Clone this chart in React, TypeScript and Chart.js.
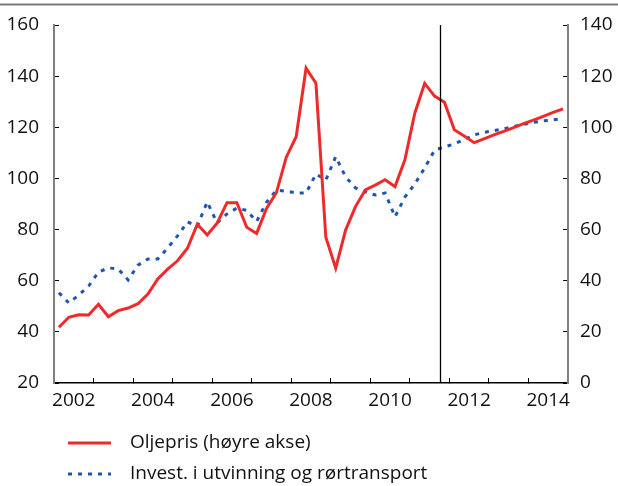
import { useEffect, useRef } from "react";
import { Chart, registerables } from "chart.js";

Chart.register(...registerables);

// Quarters 2002K1 .. 2014K4
const quarters: string[] = [
  "2002K1", "2002K2", "2002K3", "2002K4",
  "2003K1", "2003K2", "2003K3", "2003K4",
  "2004K1", "2004K2", "2004K3", "2004K4",
  "2005K1", "2005K2", "2005K3", "2005K4",
  "2006K1", "2006K2", "2006K3", "2006K4",
  "2007K1", "2007K2", "2007K3", "2007K4",
  "2008K1", "2008K2", "2008K3", "2008K4",
  "2009K1", "2009K2", "2009K3", "2009K4",
  "2010K1", "2010K2", "2010K3", "2010K4",
  "2011K1", "2011K2", "2011K3", "2011K4",
  "2012K1", "2012K2", "2012K3", "2012K4",
  "2013K1", "2013K2", "2013K3", "2013K4",
  "2014K1", "2014K2", "2014K3", "2014K4",
];

// Oil price (right axis)
const oljepris: number[] = [
  21.8, 25.7, 26.7, 26.6, 30.8, 25.9, 28.3, 29.3,
  31.0, 34.8, 40.7, 44.5, 47.8, 52.7, 62.1, 57.9,
  62.5, 70.5, 70.5, 60.9, 58.5, 68.3, 74.4, 88.3,
  96.3, 123.1, 117.2, 57.0, 44.9, 59.8, 69.0, 75.5,
  77.4, 79.5, 76.8, 87.3, 105.5, 117.2, 112.2, 109.8,
  99.0, 96.6, 94.0, 95.5, 97.0, 98.4, 99.9, 101.4,
  102.8, 104.3, 105.8, 107.2,
];

// Investment in extraction and pipeline transport (left axis)
const invest: number[] = [
  55.3, 51.3, 54.4, 57.9, 63.4, 65.0, 64.6, 60.3,
  66.1, 68.5, 68.5, 72.8, 77.5, 83.0, 81.4, 90.8,
  82.6, 86.1, 88.4, 87.5, 83.2, 90.7, 95.4, 95.0,
  94.3, 94.3, 101.7, 99.4, 108.5, 100.6, 96.3, 94.7,
  93.5, 94.3, 85.0, 92.7, 97.8, 104.1, 111.1, 112.3,
  113.5, 115.2, 117.0, 118.0, 118.7, 119.4, 120.3, 121.1,
  121.9, 122.5, 122.9, 123.4,
];

const xYears: number[] = [2002, 2015];
const xLabelYears: string[] = ["2002", "2004", "2006", "2008", "2010", "2012", "2014"];
const leftTicks: number[] = [20, 40, 60, 80, 100, 120, 140, 160];
const rightTicks: number[] = [0, 20, 40, 60, 80, 100, 120, 140];
const forecastStart = "2011K3"; // vertical line after this quarter

const seriesNames = ["Oljepris (høyre akse)", "Invest. i utvinning og rørtransport"];

const FONT = "'Open Sans', sans-serif";
const TEXT = "#111";

function quarterToX(q: string, end = false): number {
  const year = parseInt(q.slice(0, 4), 10);
  const k = parseInt(q.slice(5), 10);
  return year + (end ? k : k - 0.5) / 4;
}

const decorPlugin = {
  id: "decor",
  beforeDraw(chart: any) {
    const ctx = chart.ctx;
    ctx.save();
    ctx.fillStyle = "#fff";
    ctx.fillRect(0, 0, chart.width, chart.height);
    ctx.fillStyle = "#7a7a7a";
    ctx.fillRect(0, 3.5, chart.width, 2);
    ctx.restore();
  },
  afterDatasetsDraw(chart: any) {
    const ctx = chart.ctx;
    const xs = chart.scales.x;
    const area = chart.chartArea;
    const px = Math.round(xs.getPixelForValue(quarterToX(forecastStart, true))) + 0.5;
    ctx.save();
    ctx.strokeStyle = "#000";
    ctx.lineWidth = 1.3;
    ctx.beginPath();
    ctx.moveTo(px, area.top);
    ctx.lineTo(px, area.bottom);
    ctx.stroke();
    ctx.restore();
  },
  afterDraw(chart: any) {
    const ctx = chart.ctx;
    ctx.save();
    chart.data.datasets.forEach((ds: any, i: number) => {
      const y = 443 + i * 31;
      ctx.beginPath();
      ctx.strokeStyle = ds.borderColor;
      ctx.lineWidth = ds.borderWidth;
      ctx.lineCap = "butt";
      ctx.setLineDash(ds.borderDash || []);
      ctx.moveTo(68, y);
      ctx.lineTo(111, y);
      ctx.stroke();
      ctx.setLineDash([]);
      ctx.fillStyle = TEXT;
      ctx.font = `19px ${FONT}`;
      ctx.textBaseline = "middle";
      ctx.textAlign = "left";
      ctx.fillText(ds.label, 130, y);
    });
    ctx.restore();
  },
};

const noPad = (s: any) => {
  s.paddingTop = 0;
  s.paddingBottom = 0;
  s.paddingLeft = 0;
  s.paddingRight = 0;
};

export default function App() {
  const ref = useRef<HTMLCanvasElement | null>(null);

  useEffect(() => {
    if (!ref.current) return;
    const xs = quarters.map((q) => quarterToX(q));
    const chart = new Chart(ref.current, {
      type: "line",
      data: {
        datasets: [
          {
            label: seriesNames[0],
            data: oljepris.map((v, i) => ({ x: xs[i], y: v })),
            yAxisID: "yRight",
            borderColor: "#ee2a2a",
            borderWidth: 3,
            pointRadius: 0,
            tension: 0,
            fill: false,
          },
          {
            label: seriesNames[1],
            data: invest.map((v, i) => ({ x: xs[i], y: v })),
            yAxisID: "yLeft",
            borderColor: "#1f56ad",
            borderWidth: 3,
            borderDash: [4, 6],
            pointRadius: 0,
            tension: 0,
            fill: false,
          },
        ],
      },
      options: {
        responsive: false,
        devicePixelRatio: 1,
        animation: false,
        events: [],
        layout: { padding: { left: 0, right: 0, top: 25, bottom: 73 } },
        font: { family: FONT, size: 19 },
        plugins: {
          legend: { display: false },
          tooltip: { enabled: false },
        },
        scales: {
          x: {
            type: "linear",
            position: "bottom",
            min: xYears[0],
            max: xYears[1],
            afterFit: (s: any) => { s.height = 30; noPad(s); },
            afterBuildTicks: (s: any) => {
              const t = [];
              for (let y = xYears[0]; y <= xYears[1]; y++) t.push({ value: y });
              s.ticks = t;
            },
            ticks: {
              autoSkip: false,
              maxRotation: 0,
              padding: 11,
              labelOffset: 19.75,
              color: TEXT,
              font: { family: FONT, size: 19 },
              callback: (v: any) => (xLabelYears.includes(String(v)) ? String(v) : ""),
            },
            grid: { drawOnChartArea: false, drawTicks: true, tickLength: -5, color: "#000", lineWidth: 1 },
            border: { display: true, color: "#000", width: 1.5 },
          },
          yLeft: {
            type: "linear",
            position: "left",
            min: leftTicks[0],
            max: leftTicks[leftTicks.length - 1],
            afterFit: (s: any) => { s.width = 54; noPad(s); },
            ticks: {
              stepSize: 20,
              padding: 20,
              color: TEXT,
              font: { family: FONT, size: 19 },
            },
            grid: { drawOnChartArea: false, drawTicks: true, tickLength: -5, color: "#000", lineWidth: 1 },
            border: { display: true, color: "#808080", width: 2 },
          },
          yRight: {
            type: "linear",
            position: "right",
            min: rightTicks[0],
            max: rightTicks[rightTicks.length - 1],
            afterFit: (s: any) => { s.width = 50; noPad(s); },
            ticks: {
              stepSize: 20,
              padding: 17,
              color: TEXT,
              font: { family: FONT, size: 19 },
            },
            grid: { drawOnChartArea: false, drawTicks: true, tickLength: -5, color: "#000", lineWidth: 1 },
            border: { display: true, color: "#808080", width: 2 },
          },
        },
      },
      plugins: [decorPlugin],
    } as any);
    return () => chart.destroy();
  }, []);

  return (
    <div style={{ position: "fixed", left: 0, top: 0, width: 618, height: 486, background: "#fff" }}>
      <canvas ref={ref} width={618} height={486} style={{ display: "block", width: 618, height: 486 }} />
    </div>
  );
}
